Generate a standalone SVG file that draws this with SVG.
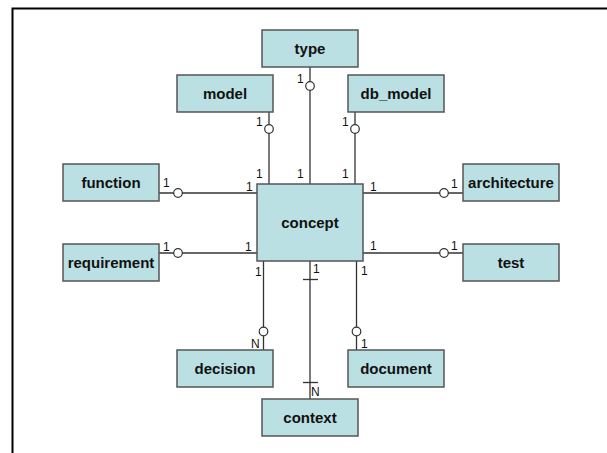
<svg xmlns="http://www.w3.org/2000/svg" width="607" height="453" viewBox="0 0 607 453">
<style>
.n rect{fill:#bbe0e3;stroke:#555;stroke-width:1.5}
.n text{font-family:"Liberation Sans",Arial,sans-serif;font-weight:bold;font-size:15px;fill:#111;text-anchor:middle}
.c line{stroke:#333;stroke-width:1.3}
.c circle{fill:#fff;stroke:#333;stroke-width:1.2}
.l text{font-family:"Liberation Sans",Arial,sans-serif;font-size:12px;fill:#111}
</style>
<rect width="607" height="453" fill="#fff"/>
<path d="M12.5 453 V8.5 H607" fill="none" stroke="#000" stroke-width="2"/>
<g class="c" id="connectors">
<line x1="310" y1="67" x2="310" y2="184"/>
<line x1="269" y1="112" x2="269" y2="184"/>
<line x1="355" y1="112" x2="355" y2="184"/>
<line x1="159" y1="193" x2="257" y2="193"/>
<line x1="159" y1="253" x2="257" y2="253"/>
<line x1="363" y1="193" x2="463" y2="193"/>
<line x1="363" y1="253" x2="463" y2="253"/>
<line x1="263.5" y1="261" x2="263.5" y2="350"/>
<line x1="310" y1="261" x2="310" y2="399"/>
<line x1="356.5" y1="261" x2="356.5" y2="350"/>
<line x1="303" y1="279.5" x2="318" y2="279.5"/>
<line x1="303" y1="382.5" x2="318" y2="382.5"/>
<circle cx="310" cy="86" r="4.3"/>
<circle cx="269" cy="129" r="4.3"/>
<circle cx="355" cy="129" r="4.3"/>
<circle cx="178" cy="193" r="4.3"/>
<circle cx="178" cy="253" r="4.3"/>
<circle cx="444" cy="193" r="4.3"/>
<circle cx="444" cy="253" r="4.3"/>
<circle cx="263.5" cy="331.5" r="4.3"/>
<circle cx="356.5" cy="331.5" r="4.3"/>
</g>
<g class="l" id="labels">
<text x="297" y="83">1</text>
<text x="256" y="126">1</text>
<text x="342" y="126">1</text>
<text x="256" y="178">1</text>
<text x="297" y="178">1</text>
<text x="342" y="178">1</text>
<text x="163" y="187">1</text>
<text x="246" y="191">1</text>
<text x="370" y="191">1</text>
<text x="451" y="188">1</text>
<text x="163" y="251">1</text>
<text x="245" y="251">1</text>
<text x="370" y="250">1</text>
<text x="451" y="250">1</text>
<text x="255" y="276">1</text>
<text x="313" y="273">1</text>
<text x="361" y="275">1</text>
<text x="251" y="348">N</text>
<text x="361" y="348">1</text>
<text x="311" y="396">N</text>
</g>
<g class="n" id="concept"><rect x="257" y="184" width="106" height="77"/><text x="310" y="228">concept</text></g>
<g class="n" id="type"><rect x="262" y="30" width="96" height="37"/><text x="310" y="54">type</text></g>
<g class="n" id="model"><rect x="177" y="75" width="96" height="37"/><text x="225" y="99">model</text></g>
<g class="n" id="db_model"><rect x="348" y="75" width="96" height="37"/><text x="396" y="99">db_model</text></g>
<g class="n" id="function"><rect x="63" y="164" width="96" height="37"/><text x="111" y="188">function</text></g>
<g class="n" id="requirement"><rect x="63" y="244" width="96" height="37"/><text x="111" y="268">requirement</text></g>
<g class="n" id="architecture"><rect x="463" y="164" width="96" height="37"/><text x="511" y="188">architecture</text></g>
<g class="n" id="test"><rect x="463" y="244" width="96" height="37"/><text x="511" y="268">test</text></g>
<g class="n" id="decision"><rect x="177" y="350" width="96" height="37"/><text x="225" y="374">decision</text></g>
<g class="n" id="document"><rect x="348" y="350" width="96" height="37"/><text x="396" y="374">document</text></g>
<g class="n" id="context"><rect x="262" y="399" width="96" height="37"/><text x="310" y="423">context</text></g>
</svg>
